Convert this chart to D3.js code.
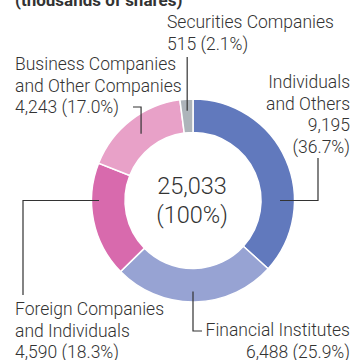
<!DOCTYPE html>
<html>
<head>
<meta charset="utf-8">
<script src="https://cdn.jsdelivr.net/npm/d3@7"></script>
<style>
  html, body { margin: 0; padding: 0; background: #fff; }
  svg { display: block; }
  text { font-family: Roboto, "Liberation Sans", Arial, sans-serif; fill: #333; }
</style>
</head>
<body>
<svg id="chart" width="353" height="360"></svg>
<script>
// Shareholder composition (thousands of shares)
const categories = [
  "Individuals and Others",
  "Financial Institutes",
  "Foreign Companies and Individuals",
  "Business Companies and Other Companies",
  "Securities Companies"
];
const shares = [9195, 6488, 4590, 4243, 515];
const percents = [36.7, 25.9, 18.3, 17.0, 2.1];
const colors = ["#6179bd", "#97a3d3", "#d86aad", "#e8a1c8", "#adb4ba"];
const totalShares = 25033;

const svg = d3.select("#chart");
const cx = 193, cy = 200.5, outerR = 101.5, innerR = 68;

const fmt = d3.format(",");
const data = categories.map((c, i) => ({ name: c, value: shares[i], pct: percents[i], color: colors[i] }));

const pie = d3.pie().value(d => d.value).sort(null);
const arcs = pie(data);
const arc = d3.arc().innerRadius(innerR).outerRadius(outerR);

const g = svg.append("g").attr("transform", `translate(${cx},${cy})`);
g.selectAll("path")
  .data(arcs)
  .join("path")
  .attr("d", arc)
  .attr("fill", d => d.data.color)
  .attr("stroke", "#fff")
  .attr("stroke-width", 1.5);

// Header (partly above the top edge)
svg.append("text")
  .attr("x", 15).attr("y", 6)
  .style("font-size", "17px").style("font-weight", 700)
  .text("(thousands of shares)");

// Centre total
const center = svg.append("text")
  .attr("text-anchor", "middle")
  .style("font-size", "23.5px").style("font-weight", 300);
center.append("tspan").attr("x", cx - 1).attr("y", 194).text(fmt(totalShares));
center.append("tspan").attr("x", cx - 1).attr("y", 223).text("(100%)");

// Point on the ring for a leader line
function ringPoint(angle, r) {
  return [cx + r * Math.sin(angle), cy - r * Math.cos(angle)];
}
const mid = d => (d.startAngle + d.endAngle) / 2;

const lineGen = d3.line();
function leader(pts) {
  svg.append("path")
    .attr("d", lineGen(pts))
    .attr("fill", "none")
    .attr("stroke", "#333")
    .attr("stroke-width", 1.2);
}

function label(lines, x, y0, anchor) {
  const t = svg.append("text")
    .attr("text-anchor", anchor)
    .style("font-size", "17.5px").style("font-weight", 300);
  lines.forEach((s, i) => t.append("tspan").attr("x", x).attr("y", y0 + i * 21.5).text(s));
}
const valueText = d => `${fmt(d.value)} (${d.pct.toFixed(1)}%)`;

// Individuals and Others
{
  const d = arcs[0].data;
  const p = ringPoint(Math.PI / 2, 87);
  leader([p, [318, p[1]], [318, 158]]);
  label(["Individuals", "and Others", fmt(d.value), `(${d.pct.toFixed(1)}%)`], 350, 88, "end");
}
// Financial Institutes
{
  const d = arcs[1].data;
  const p = ringPoint(Math.PI, 91);
  leader([p, [p[0], 331], [202, 331]]);
  label(["Financial Institutes", valueText(d)], 350, 336, "end");
}
// Foreign Companies and Individuals
{
  const d = arcs[2].data;
  const p = ringPoint(Math.PI * 1.5, 94);
  leader([p, [23, p[1]], [23, 295]]);
  label(["Foreign Companies", "and Individuals", valueText(d)], 15, 315, "start");
}
// Business Companies and Other Companies
{
  const d = arcs[3];
  const p = ringPoint(mid(d), 84.5);
  leader([p, [p[0], 107], [133, 107]]);
  label(["Business Companies", "and Other Companies", valueText(d.data)], 15, 70, "start");
}
// Securities Companies
{
  const d = arcs[4];
  const p = ringPoint(mid(d), 90);
  leader([p, [p[0], 57]]);
  label(["Securities Companies", valueText(d.data)], 167, 28, "start");
}
</script>
</body>
</html>
